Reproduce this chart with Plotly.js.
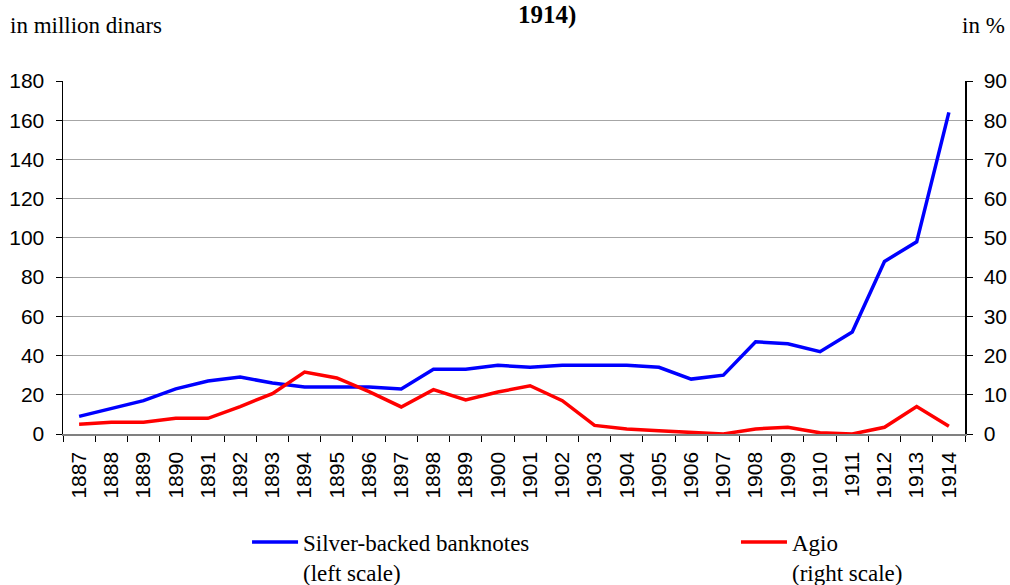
<!DOCTYPE html>
<html>
<head>
<meta charset="utf-8">
<script src="https://cdn.plot.ly/plotly-3.0.1.min.js"></script>
<style>html,body{margin:0;padding:0;background:#fff;}#chart{width:1010px;height:585px;}</style>
</head>
<body>
<div id="chart"></div>
<script>
const years = ['1887','1888','1889','1890','1891','1892','1893','1894','1895','1896','1897','1898','1899','1900','1901','1902','1903','1904','1905','1906','1907','1908','1909','1910','1911','1912','1913','1914'];
const banknotes = [9, 13, 17, 23, 27, 29, 26, 24, 24, 24, 23, 33, 33, 35, 34, 35, 35, 35, 34, 28, 30, 47, 46, 42, 52, 88, 98, 164];
const agio = [2.5, 3, 3, 4, 4, 7, 10.3, 15.8, 14.3, 10.8, 6.9, 11.3, 8.7, 10.7, 12.3, 8.5, 2.2, 1.3, 0.8, 0.4, 0, 1.3, 1.7, 0.3, 0, 1.7, 7, 2];
const leftTicks = [0,20,40,60,80,100,120,140,160,180];
const rightTicks = [0,10,20,30,40,50,60,70,80,90];

const traces = [
  {x: years, y: banknotes, type:'scatter', mode:'lines', name:'Silver-backed banknotes<br>(left scale)',
   line:{color:'#0000ff', width:3.5}, yaxis:'y', legend:'legend'},
  {x: years, y: agio, type:'scatter', mode:'lines', name:'Agio<br>(right scale)',
   line:{color:'#ff0000', width:3.5}, yaxis:'y2', legend:'legend2'}
];

const tickFont = {family:'"Liberation Sans", Arial, sans-serif', size:21, color:'#000'};
const serif = '"Liberation Serif", "Times New Roman", serif';
const legFont = {family:serif, size:23, color:'#000'};

const layout = {
  width:1010, height:585,
  margin:{l:63, r:45, t:81, b:151, autoexpand:false},
  paper_bgcolor:'#fff', plot_bgcolor:'#fff',
  showlegend:true,
  legend:{xref:'container', yref:'container', x:0.2446, xanchor:'left', y:0.1103, yanchor:'top',
    font:legFont, valign:'top', itemwidth:46, bgcolor:'rgba(0,0,0,0)'},
  legend2:{xref:'container', yref:'container', x:0.7287, xanchor:'left', y:0.1103, yanchor:'top',
    font:legFont, valign:'top', itemwidth:46, bgcolor:'rgba(0,0,0,0)'},
  xaxis:{type:'category', tickangle:-90, tickfont:tickFont, ticks:'outside', ticklen:6,
    tickson:'boundaries', tickcolor:'#000', showline:true, linecolor:'#808080', linewidth:1.5,
    showgrid:false, zeroline:false, range:[-0.5, 27.5], automargin:false, ticklabelstandoff:8},
  yaxis:{range:[0,180], tickvals:leftTicks, tickfont:tickFont, ticks:'outside', ticklen:6,
    tickcolor:'#000', showline:true, linecolor:'#000', linewidth:1.5, automargin:false,
    showgrid:true, gridcolor:'#a6a6a6', gridwidth:1.2, zeroline:false, ticklabelstandoff:7},
  yaxis2:{range:[0,90], tickvals:rightTicks, overlaying:'y', side:'right', tickfont:tickFont,
    ticks:'outside', ticklen:6, tickcolor:'#000', showline:true, linecolor:'#000', linewidth:1.5,
    showgrid:false, zeroline:false, automargin:false, ticklabelstandoff:7},
  annotations:[
    {text:'<b>1914)</b>', xref:'paper', yref:'paper', x:0.5366, y:1.0, xanchor:'center', yanchor:'middle',
     yshift:66, showarrow:false, font:{family:serif, size:25, color:'#000'}},
    {text:'in million dinars', xref:'paper', yref:'paper', x:-0.061, xanchor:'left', y:1, yanchor:'middle',
     yshift:56, showarrow:false, font:{family:serif, size:23, color:'#000'}},
    {text:'in %', xref:'paper', yref:'paper', x:1.0466, xanchor:'right', y:1, yanchor:'middle',
     yshift:56, showarrow:false, font:{family:serif, size:23, color:'#000'}}
  ]
};

Plotly.newPlot('chart', traces, layout, {displayModeBar:false, staticPlot:true});
</script>
</body>
</html>
